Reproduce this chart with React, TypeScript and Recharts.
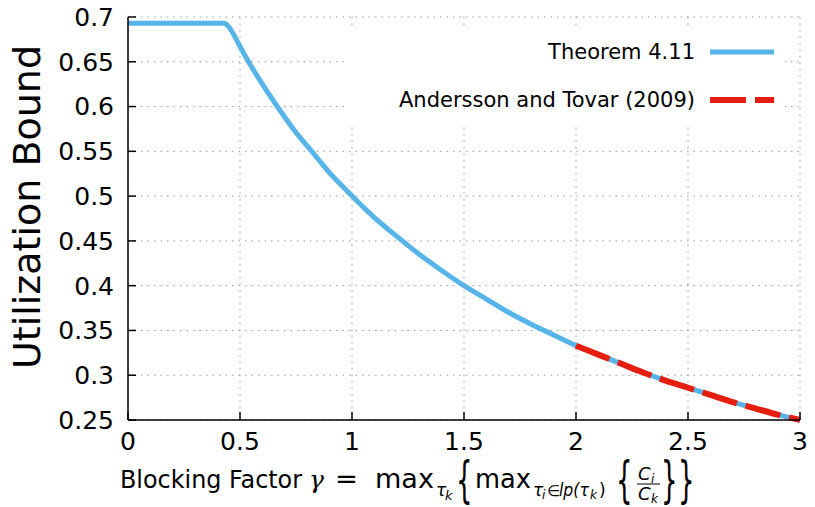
import React from "react"
import {
  LineChart,
  Line,
  XAxis,
  YAxis,
  CartesianGrid,
  Legend,
} from "recharts"

// blocking factor (x) and the two bounds
const gammaValues = [
  0, 0.1, 0.2, 0.3, 0.4, 0.43, 0.45, 0.5, 0.55, 0.6, 0.65, 0.7, 0.75, 0.8, 0.85, 0.9, 0.95,
  1, 1.1, 1.2, 1.3, 1.4, 1.5, 1.6, 1.7, 1.8, 1.9,
  2, 2.1, 2.2, 2.3, 2.4, 2.5, 2.6, 2.7, 2.8, 2.9, 3,
]
const theoremBound = [
  0.693, 0.693, 0.693, 0.693, 0.693, 0.693, 0.689, 0.667, 0.645, 0.625, 0.606, 0.588, 0.571, 0.556, 0.541, 0.526, 0.513,
  0.5, 0.476, 0.455, 0.435, 0.417, 0.4, 0.385, 0.37, 0.357, 0.345,
  0.333, 0.323, 0.313, 0.303, 0.294, 0.286, 0.278, 0.27, 0.263, 0.256, 0.25,
]
const anderssonBound = [
  null, null, null, null, null, null, null, null, null, null, null, null, null, null, null, null, null,
  null, null, null, null, null, null, null, null, null, null,
  0.333, 0.323, 0.313, 0.303, 0.294, 0.286, 0.278, 0.27, 0.263, 0.256, 0.25,
]
const xTicks = [0, 0.5, 1, 1.5, 2, 2.5, 3]
const yTicks = [0.25, 0.3, 0.35, 0.4, 0.45, 0.5, 0.55, 0.6, 0.65, 0.7]

const BLUE = "#56b4e9"
const RED = "#e51e10"
const FONT = "DejaVu Sans"

const rows = gammaValues.map((g, i) => ({
  gamma: g,
  theorem: theoremBound[i],
  andersson: anderssonBound[i],
}))

const axisLine = { stroke: "#000", strokeWidth: 1.5 }

function XTick({ x, y, payload }: any) {
  return (
    <text x={x} y={y} dy="0.71em" textAnchor="middle" fontFamily={FONT} fontSize={25} fill="#000">
      {payload.value}
    </text>
  )
}

function YTick({ x, y, payload }: any) {
  return (
    <text x={x} y={y} dy="0.355em" textAnchor="end" fontFamily={FONT} fontSize={25} fill="#000">
      {payload.value}
    </text>
  )
}

function YLabel() {
  return (
    <text
      x={27}
      y={207}
      transform="rotate(-90 27 207)"
      textAnchor="middle"
      dominantBaseline="central"
      fontFamily={FONT}
      fontSize={38}
      fill="#000"
    >
      Utilization Bound
    </text>
  )
}

// tall thin brace made from a stretched glyph
function Brace({ x, ch }: { x: number; ch: string }) {
  return (
    <text
      fontFamily={FONT}
      fontSize={26}
      fill="#000"
      transform={`translate(${x} 497) scale(1 1.9)`}
    >
      {ch}
    </text>
  )
}

function XLabel() {
  const base = 488
  const sub = 496
  const fit = { lengthAdjust: "spacingAndGlyphs" as const }
  return (
    <g fill="#000">
      <text x={120} y={base} fontFamily={FONT} fontSize={24} textLength={182} {...fit}>Blocking Factor</text>
      <text x={309} y={base} fontFamily="DejaVu Serif" fontStyle="italic" fontSize={25}>γ</text>
      <text x={335} y={base} fontFamily={FONT} fontSize={26} textLength={23} {...fit}>=</text>
      <text x={375} y={base} fontFamily={FONT} fontSize={26} textLength={59} {...fit}>max</text>
      <text x={436} y={sub} fontFamily={FONT} fontStyle="italic" fontSize={17}>τ</text>
      <text x={445} y={sub + 4} fontFamily={FONT} fontStyle="italic" fontSize={13}>k</text>
      <Brace x={456} ch="{" />
      <text x={475} y={base} fontFamily={FONT} fontSize={26} textLength={56} {...fit}>max</text>
      <text x={533} y={sub} fontFamily={FONT} fontStyle="italic" fontSize={17}>τ</text>
      <text x={542} y={sub + 3} fontFamily={FONT} fontStyle="italic" fontSize={12}>i</text>
      <text x={547} y={sub} fontFamily={FONT} fontSize={15}>∈</text>
      <text x={559} y={sub} fontFamily={FONT} fontStyle="italic" fontSize={17} textLength={30} {...fit}>lp(τ</text>
      <text x={590} y={sub + 3} fontFamily={FONT} fontStyle="italic" fontSize={12}>k</text>
      <text x={599} y={sub} fontFamily={FONT} fontSize={17}>)</text>
      <Brace x={616} ch="{" />
      <text x={638} y={480} fontFamily={FONT} fontStyle="italic" fontSize={18}>C</text>
      <text x={651} y={483} fontFamily={FONT} fontStyle="italic" fontSize={12}>i</text>
      <line x1={637} x2={660} y1={484} y2={484} stroke="#000" strokeWidth={1} />
      <text x={638} y={500} fontFamily={FONT} fontStyle="italic" fontSize={18}>C</text>
      <text x={651} y={503} fontFamily={FONT} fontStyle="italic" fontSize={12}>k</text>
      <Brace x={661} ch="}" />
      <Brace x={678} ch="}" />
    </g>
  )
}

function LegendBox() {
  return (
    <svg width={440} height={100} style={{ background: "#fff", display: "block" }}>
      <g fontFamily={FONT} fontSize={21} fill="#000">
        <text x={350} y={26} textAnchor="end" dominantBaseline="central">Theorem 4.11</text>
        <text x={350} y={74} textAnchor="end" dominantBaseline="central">Andersson and Tovar (2009)</text>
      </g>
      <line x1={365} x2={429} y1={26} y2={26} stroke={BLUE} strokeWidth={5} />
      <line x1={365} x2={429} y1={74} y2={74} stroke={RED} strokeWidth={6} strokeDasharray="36 9" />
    </svg>
  )
}

export default function App() {
  return (
    <div style={{ position: "absolute", left: 0, top: 0, background: "#fff" }}>
      <LineChart
        width={815}
        height={507}
        data={rows}
        margin={{ top: 17, right: 15, bottom: 27, left: 0 }}
      >
        <CartesianGrid stroke="#9a9a9a" strokeWidth={1} strokeDasharray="1.5 5" />
        <XAxis
          dataKey="gamma"
          type="number"
          domain={[0, 3]}
          ticks={xTicks}
          height={60}
          tickSize={-8}
          tickMargin={20}
          axisLine={axisLine}
          tickLine={axisLine}
          tick={<XTick />}
          label={<XLabel />}
        />
        <XAxis
          xAxisId="top"
          orientation="top"
          dataKey="gamma"
          type="number"
          domain={[0, 3]}
          ticks={xTicks}
          height={0}
          tickSize={-8}
          tickFormatter={() => ""}
          axisLine={axisLine}
          tickLine={axisLine}
        />
        <YAxis
          type="number"
          domain={[0.25, 0.7]}
          ticks={yTicks}
          width={128}
          tickSize={-8}
          tickMargin={22}
          axisLine={axisLine}
          tickLine={axisLine}
          tick={<YTick />}
          label={<YLabel />}
        />
        <YAxis
          yAxisId="right"
          orientation="right"
          type="number"
          domain={[0.25, 0.7]}
          ticks={yTicks}
          width={0}
          tickSize={-8}
          tickFormatter={() => ""}
          axisLine={axisLine}
          tickLine={axisLine}
        />
        <Legend
          layout="horizontal"
          verticalAlign="middle"
          align="center"
          content={() => <LegendBox />}
          wrapperStyle={{ position: "absolute", left: 345, top: 26, width: 440, height: 100 }}
        />
        <Line
          dataKey="theorem"
          name="Theorem 4.11"
          stroke={BLUE}
          strokeWidth={5}
          dot={false}
          type="monotone"
          isAnimationActive={false}
        />
        <Line
          dataKey="andersson"
          name="Andersson and Tovar (2009)"
          stroke={RED}
          strokeWidth={6}
          strokeDasharray="36 9"
          dot={false}
          type="monotone"
          connectNulls={false}
          isAnimationActive={false}
        />
      </LineChart>
    </div>
  )
}
